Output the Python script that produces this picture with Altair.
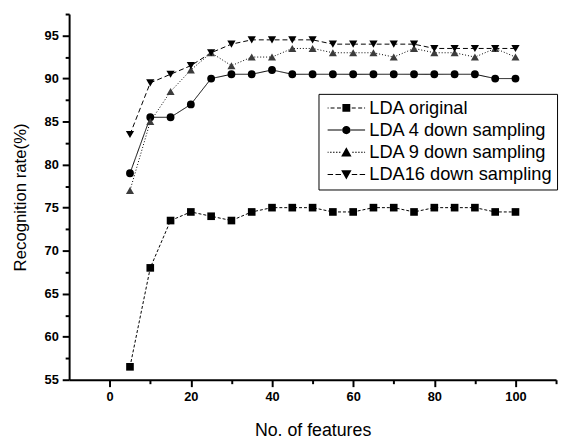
import altair as alt
import pandas as pd

features = [5, 10, 15, 20, 25, 30, 35, 40, 45, 50, 55, 60, 65, 70, 75, 80, 85, 90, 95, 100]
lda_original = [56.5, 68, 73.5, 74.5, 74, 73.5, 74.5, 75, 75, 75, 74.5, 74.5, 75, 75, 74.5, 75, 75, 75, 74.5, 74.5]
lda_4 = [79, 85.5, 85.5, 87, 90, 90.5, 90.5, 91, 90.5, 90.5, 90.5, 90.5, 90.5, 90.5, 90.5, 90.5, 90.5, 90.5, 90, 90]
lda_9 = [77, 85, 88.5, 91, 93, 91.5, 92.5, 92.5, 93.5, 93.5, 93, 93, 93, 92.5, 93.5, 93, 93, 92.5, 93.5, 92.5]
lda_16 = [83.5, 89.5, 90.5, 91.5, 93, 94, 94.5, 94.5, 94.5, 94.5, 94, 94, 94, 94, 94, 93.5, 93.5, 93.5, 93.5, 93.5]
names = ["LDA original", "LDA 4 down sampling", "LDA 9 down sampling", "LDA16 down sampling"]
series = [lda_original, lda_4, lda_9, lda_16]

rows = []
for name, vals in zip(names, series):
    for f, v in zip(features, vals):
        rows.append({"features": f, "rate": v, "series": name})
df = pd.DataFrame(rows)

FONT = "Liberation Sans"

# legend symbols: thin filled bars (line pieces) with the marker in the middle
# (unit: +-1 = half of the marker size)
def segs(pattern):
    out = ""
    for a, b in pattern:
        out += f"M{a},-0.1H{b}V0.1H{a}Z"
        out += f"M{-b},-0.1H{-a}V0.1H{-b}Z"
    return out

solid = [(0.9, 3.8)]
dashed = [(1.1, 1.9), (2.4, 3.2), (3.6, 3.8)]
dotted = [(1.2, 1.5), (1.8, 2.1), (2.4, 2.7), (3.0, 3.3), (3.6, 3.8)]
dashlong = [(1.1, 2.2), (2.7, 3.8)]
legend_paths = [
    segs(dashed) + "M-0.8,-0.8H0.8V0.8H-0.8Z",
    segs(solid) + "M-0.85,0A0.85,0.85 0 1,0 0.85,0A0.85,0.85 0 1,0 -0.85,0Z",
    segs(dotted) + "M0,-1L1.05,0.85H-1.05Z",
    segs(dashlong) + "M0,1L1.05,-0.85H-1.05Z",
]

x_enc = alt.X(
    "features:Q",
    scale=alt.Scale(domain=[-10, 110], nice=False, zero=False),
    axis=alt.Axis(
        values=list(range(0, 111, 10)),
        tickSize={"condition": {"test": "datum.value % 20 === 0", "value": 7}, "value": 4},
        labelExpr="datum.value % 20 === 0 && datum.value <= 100 ? datum.label : ''",
        title="No. of features",
        titlePadding=19,
        titleFontSize=18,
    ),
)
y_enc = alt.Y(
    "rate:Q",
    scale=alt.Scale(domain=[55, 97.5], nice=False, zero=False),
    axis=alt.Axis(
        values=[55 + 2.5 * i for i in range(18)],
        tickSize={"condition": {"test": "datum.value % 5 === 0", "value": 7}, "value": 4},
        labelExpr="datum.value % 5 === 0 ? datum.label : ''",
        title="Recognition rate(%)",
        titlePadding=15,
        titleFontSize=17,
    ),
)

color_scale = alt.Scale(domain=names, range=["black", "black", "#3c3c3c", "black"])

lines = alt.Chart(df).mark_line(strokeWidth=1, color="black").encode(
    x=x_enc,
    y=y_enc,
    strokeDash=alt.StrokeDash(
        "series:N",
        scale=alt.Scale(domain=names, range=[[3, 2], [1, 0], [1, 2], [5, 3]]),
        legend=None,
    ),
    detail="series:N",
)

points = alt.Chart(df).mark_point(filled=True, opacity=1).encode(
    x=x_enc,
    y=y_enc,
    shape=alt.Shape(
        "series:N",
        scale=alt.Scale(domain=names, range=["square", "circle", "triangle-up", "triangle-down"]),
        legend=None,
    ),
    color=alt.Color("series:N", scale=color_scale, legend=None),
    size=alt.Size("series:N", scale=alt.Scale(domain=names, range=[60, 70, 110, 110]), legend=None),
)

legend_layer = alt.Chart(df).transform_filter("false").mark_point(
    filled=True, opacity=1
).encode(
    x=x_enc,
    y=y_enc,
    shape=alt.Shape(
        "series:N",
        scale=alt.Scale(domain=names, range=legend_paths),
        legend=alt.Legend(
            title=None,
            orient="none",
            legendX=253,
            legendY=81,
            strokeColor="black",
            fillColor="white",
            padding=5,
            symbolSize=100,
            labelFontSize=18.5,
            labelFont=FONT,
            labelColor="black",
            labelOffset=14,
            labelLimit=400,
            rowPadding=3.5,
            symbolOffset=14,
        ),
    ),
    color=alt.Color("series:N", scale=color_scale, legend=None),
)

chart = (
    alt.layer(lines, points, legend_layer)
    .resolve_scale(shape="independent")
    .properties(
        width=494,
        height=371,
        autosize=alt.AutoSizeParams(type="none"),
        padding={"left": 62, "top": 3, "right": 4, "bottom": 57},
    )
    .configure_view(stroke=None)
    .configure_axis(
        grid=False,
        domainColor="black",
        domainWidth=2,
        tickColor="black",
        tickWidth=2,
        labelFont=FONT,
        labelFontSize=13,
        labelFontWeight="bold",
        labelColor="black",
        titleFont=FONT,
        titleFontWeight="normal",
        titleColor="black",
        labelPadding=4,
    )
)

chart.save("out.html", embed_options={"renderer": "svg", "actions": False})
